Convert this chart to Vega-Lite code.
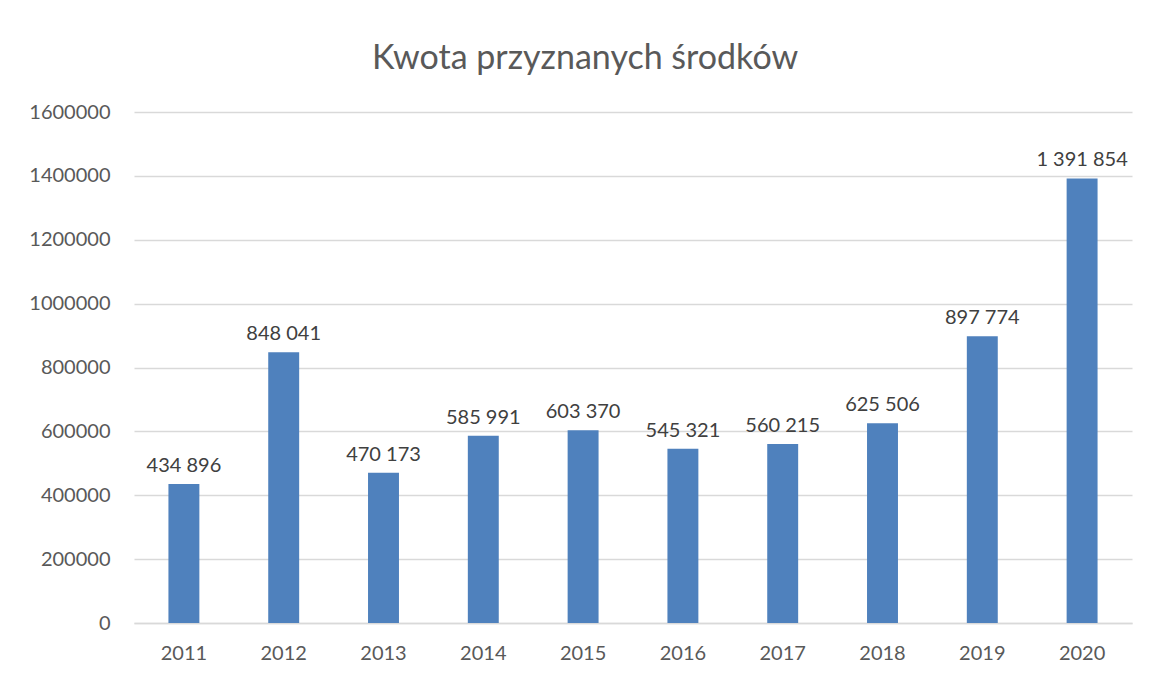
{
  "$schema": "https://vega.github.io/schema/vega-lite/v6.json",
  "autosize": "none",
  "width": 998,
  "height": 511,
  "padding": {"left": 134, "top": 112, "right": 17, "bottom": 55},
  "background": "white",
  "config": {
    "locale": {"number": {"decimal": ",", "thousands": " ", "grouping": [3], "currency": ["", " zł"]}},
    "view": {"stroke": null},
    "font": "Lato",
    "title": {"font": "Lato", "fontSize": 34, "fontWeight": "normal", "color": "#595959"}
  },
  "title": {"text": "Kwota przyznanych środków", "offset": 26, "dx": -48},
  "data": {
    "values": [
      {"rok": "2011", "kwota": 434896},
      {"rok": "2012", "kwota": 848041},
      {"rok": "2013", "kwota": 470173},
      {"rok": "2014", "kwota": 585991},
      {"rok": "2015", "kwota": 603370},
      {"rok": "2016", "kwota": 545321},
      {"rok": "2017", "kwota": 560215},
      {"rok": "2018", "kwota": 625506},
      {"rok": "2019", "kwota": 897774},
      {"rok": "2020", "kwota": 1391854}
    ]
  },
  "encoding": {
    "x": {
      "field": "rok", "type": "nominal", "title": null,
      "scale": {"paddingInner": 0, "paddingOuter": 0},
      "axis": {"labelAngle": 0, "ticks": false, "domainColor": "#D9D9D9", "domainWidth": 1.5, "labelPadding": 20, "labelFontSize": 20, "labelColor": "#595959", "labelFont": "Lato"}
    },
    "y": {
      "field": "kwota", "type": "quantitative", "title": null,
      "scale": {"domain": [0, 1600000], "nice": false},
      "axis": {"values": [0, 200000, 400000, 600000, 800000, 1000000, 1200000, 1400000, 1600000], "format": "d", "ticks": false, "domain": false, "gridColor": "#D9D9D9", "gridWidth": 1.5, "labelPadding": 24, "labelFontSize": 20, "labelColor": "#595959", "labelFont": "Lato"}
    }
  },
  "layer": [
    {"mark": {"type": "bar", "color": "#4F81BD", "width": {"band": 0.31}}},
    {"mark": {"type": "text", "baseline": "bottom", "dy": -8, "fontSize": 20, "color": "#404040", "font": "Lato"},
     "encoding": {"text": {"field": "kwota", "type": "quantitative", "format": ",d"}}}
  ]
}
